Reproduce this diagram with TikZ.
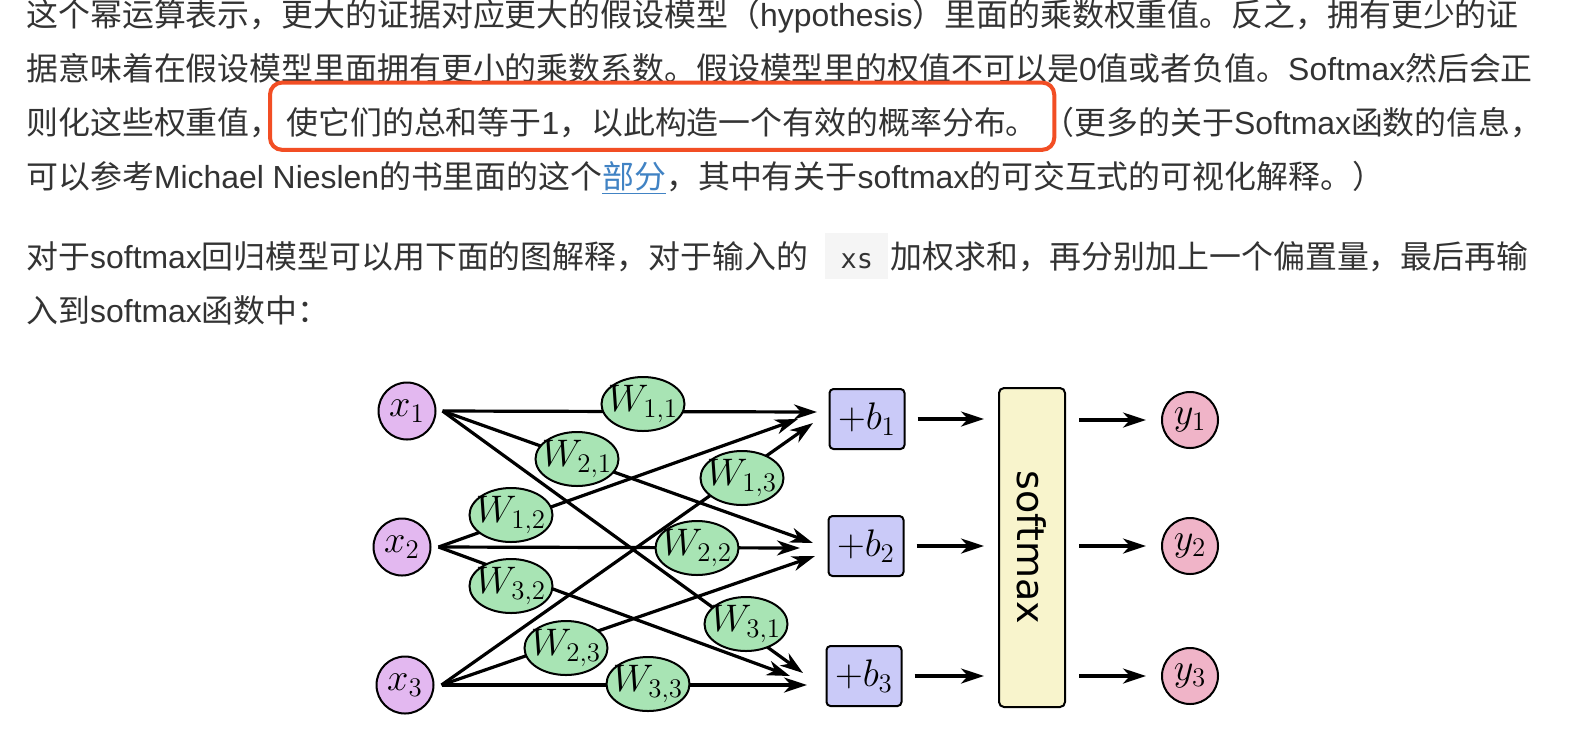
\RequirePackage{fix-cm}
\documentclass[tikz,border=0pt]{standalone}
\usepackage[no-math]{fontspec}
\usetikzlibrary{arrows.meta,shapes.geometric,fit}
\newfontfamily\cjk{Noto Sans CJK SC}
\newfontfamily\lat{Liberation Sans}
\newfontfamily\dvs{DejaVu Sans}
\newfontfamily\mono{DejaVu Sans Mono}
\definecolor{txtgray}{HTML}{333333}
\definecolor{linkblue}{HTML}{4183C4}
\definecolor{hlred}{HTML}{F24E24}
\definecolor{codegray}{HTML}{F5F5F5}
\definecolor{xpurple}{HTML}{E3B8F0}
\definecolor{wgreen}{HTML}{A8E4B4}
\definecolor{bblue}{HTML}{CACAF8}
\definecolor{syellow}{HTML}{F8F4CC}
\definecolor{ypink}{HTML}{F0B4C8}
\newcommand\dfont{\fontsize{19.2pt}{23pt}\selectfont}
\begin{document}
\begin{tikzpicture}[x=0.5pt,y=-0.5pt,
  txt/.style={anchor=base west, inner sep=0pt, text=txtgray, font=\cjk\fontsize{15.95pt}{19pt}\selectfont},
  xin/.style={circle, draw, line width=1pt, fill=xpurple, minimum size=28.5pt, inner sep=0pt, font=\dfont},
  wnode/.style={ellipse, draw, line width=1pt, fill=wgreen, minimum width=41.5pt, minimum height=27pt, inner sep=0pt, font=\dfont},
  bnode/.style={rectangle, draw, line width=1pt, rounded corners=2pt, fill=bblue, minimum width=37.5pt, minimum height=30pt, inner sep=0pt, font=\dfont},
  snode/.style={rectangle, draw, line width=1pt, rounded corners=2.5pt, fill=syellow, minimum width=33pt, minimum height=159.5pt, inner sep=0pt},
  yout/.style={circle, draw, line width=1pt, fill=ypink, minimum size=28pt, inner sep=0pt, font=\dfont},
  conn/.style={line width=1.6pt, -{Stealth[length=11.5pt,width=7.5pt,inset=3.5pt]}},
  hlbox/.style={draw=hlred, line width=2pt, rounded corners=6pt, inner xsep=8pt, inner ysep=9pt},
  codebox/.style={fill=codegray, anchor=base west, inner sep=0pt, text height=17.5pt, text depth=5.5pt, minimum width=31.5pt, text=txtgray, font=\mono\fontsize{13.5pt}{16pt}\selectfont}
]
\path[fill=white, use as bounding box] (0,0) rectangle (1574,746);

% ---- text ----
\node[txt] (l1) at (26,26) {这个幂运算表示，更大的证据对应更大的假设模型（{\lat hypothesis}）里面的乘数权重值。反之，拥有更少的证};
\node[txt] (l2) at (26,80) {据意味着在假设模型里面拥有更小的乘数系数。假设模型里的权值不可以是{\lat 0}值或者负值。{\lat Softmax}然后会正};
\node[txt] (l3a) at (26,134) {则化这些权重值，};
\node[txt] (hl) at ([xshift=2pt]l3a.base east) {使它们的总和等于{\lat 1}，以此构造一个有效的概率分布。};
\node[txt] (l3c) at ([xshift=2pt]hl.base east) {（更多的关于{\lat Softmax}函数的信息，};
\node[hlbox, fit=(hl), yshift=3pt] (hlb) {};
\node[txt] (l4) at (26,188) {可以参考{\lat Michael Nieslen}的书里面的这个{\color{linkblue}$\underline{\hbox{部分}}$}，其中有关于{\lat softmax}的可交互式的可视化解释。）};
\node[txt] (l5a) at (26,268) {对于{\lat softmax}回归模型可以用下面的图解释，对于输入的};
\node[codebox] (code) at (825,268) {xs};
\node[txt] (l5b) at (890,268) {加权求和，再分别加上一个偏置量，最后再输};
\node[txt] (l6) at (26,322) {入到{\lat softmax}函数中：};

% ---- diagram nodes ----
\node[xin] (x1) at (407,411) {$x_1$};
\node[xin] (x2) at (402,547) {$x_2$};
\node[xin] (x3) at (405,685) {$x_3$};
\node[bnode] (b1) at (867,419) {$+b_1$};
\node[bnode] (b2) at (866,546) {$+b_2$};
\node[bnode] (b3) at (864,676) {$+b_3$};
\node[snode] (sm) at (1032,547.5) {};
\node[rotate=-90, font=\dvs\fontsize{19pt}{22pt}\selectfont] (smt) at (sm.center) {softmax};
\node[yout] (y1) at (1190,420) {$y_1$};
\node[yout] (y2) at (1190,546) {$y_2$};
\node[yout] (y3) at (1190,676) {$y_3$};

% ---- connector end points ----
\coordinate (s1) at ([xshift=3pt]x1.east);
\coordinate (s2) at ([xshift=3.5pt]x2.east);
\coordinate (s3) at ([xshift=3.5pt]x3.east);
\coordinate (e11) at (817,412);
\coordinate (e12) at (798,419);
\coordinate (e13) at (813,423);
\coordinate (e21) at (813,543);
\coordinate (e22) at (800,548);
\coordinate (e23) at (815,556);
\coordinate (e31) at (803,673);
\coordinate (e32) at (790,676);
\coordinate (e33) at (807,685);

\draw[conn] (s1) -- (e11);
\draw[conn] (s1) -- (e21);
\draw[conn] (s1) -- (e31);
\draw[conn] (s2) -- (e12);
\draw[conn] (s2) -- (e22);
\draw[conn] (s2) -- (e32);
\draw[conn] (s3) -- (e13);
\draw[conn] (s3) -- (e23);
\draw[conn] (s3) -- (e33);

% ---- weights ----
\node[wnode] (w11) at (643,404) {\makebox[0pt]{$W_{1,1}$}};
\node[wnode] (w21) at (577,459) {\makebox[0pt]{$W_{2,1}$}};
\node[wnode] (w13) at (742,478) {\makebox[0pt]{$W_{1,3}$}};
\node[wnode] (w12) at (511,515) {\makebox[0pt]{$W_{1,2}$}};
\node[wnode] (w22) at (697,548) {\makebox[0pt]{$W_{2,2}$}};
\node[wnode] (w32) at (511,586) {\makebox[0pt]{$W_{3,2}$}};
\node[wnode] (w31) at (746,624) {\makebox[0pt]{$W_{3,1}$}};
\node[wnode] (w23) at (566,648) {\makebox[0pt]{$W_{2,3}$}};
\node[wnode] (w33) at (648,684) {\makebox[0pt]{$W_{3,3}$}};

% ---- bias -> softmax -> outputs ----
\coordinate (m1) at (b1.east -| sm.west);
\coordinate (m2) at (b2.east -| sm.west);
\coordinate (m3) at (b3.east -| sm.west);
\coordinate (n1) at (y1.west -| sm.east);
\coordinate (n2) at (y2.west -| sm.east);
\coordinate (n3) at (y3.west -| sm.east);
\draw[conn] ([xshift=6pt]b1.east) -- ([xshift=-7pt]m1);
\draw[conn] ([xshift=6pt]b2.east) -- ([xshift=-7pt]m2);
\draw[conn] ([xshift=6pt]b3.east) -- ([xshift=-7pt]m3);
\draw[conn] ([xshift=6.5pt]n1) -- ([xshift=-7.5pt]y1.west);
\draw[conn] ([xshift=6.5pt]n2) -- ([xshift=-7.5pt]y2.west);
\draw[conn] ([xshift=6.5pt]n3) -- ([xshift=-7.5pt]y3.west);
\end{tikzpicture}
\end{document}
